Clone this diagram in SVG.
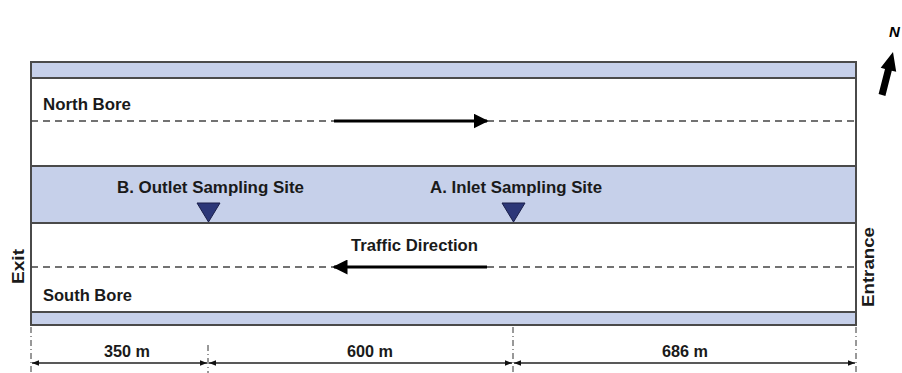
<svg xmlns="http://www.w3.org/2000/svg" width="902" height="373" viewBox="0 0 902 373">
<defs>
<style>
.band{fill:#c6d0ea;stroke:#4a4a4a;stroke-width:2}
.bore{fill:#ffffff;stroke:#4a4a4a;stroke-width:2}
.t{font-family:"Liberation Sans",Arial,sans-serif;font-weight:bold;font-size:17px;fill:#1a1a1a}
.dash{stroke:#444;stroke-width:1.5;stroke-dasharray:7,5;fill:none}
.dd{stroke:#333;stroke-width:1;stroke-dasharray:6,3,1,3;fill:none}
.dim{stroke:#222;stroke-width:1.4;fill:none}
.tri{fill:#2c3778;stroke:#1a1f4a;stroke-width:1}
</style>
<marker id="ah" viewBox="0 0 10 10" refX="9" refY="5" markerWidth="5" markerHeight="5" orient="auto-start-reverse" markerUnits="strokeWidth">
<path d="M0,0 L10,5 L0,10 z" fill="#000"/>
</marker>
<marker id="dh" viewBox="0 0 10 10" refX="10" refY="5" markerWidth="9" markerHeight="7" orient="auto-start-reverse" markerUnits="userSpaceOnUse">
<path d="M0,1 L10,5 L0,9 z" fill="#111"/>
</marker>
</defs>

<g id="tunnel">
<rect class="band" x="31" y="62" width="825" height="16"/>
<rect class="bore" x="31" y="78" width="825" height="88"/>
<rect class="band" x="31" y="166" width="825" height="57"/>
<rect class="bore" x="31" y="223" width="825" height="89"/>
<rect class="band" x="31" y="312" width="825" height="13"/>
</g>

<g id="north-bore">
<text class="t" x="43" y="110" textLength="88" lengthAdjust="spacingAndGlyphs">North Bore</text>
<line class="dash" x1="31" y1="121" x2="856" y2="121"/>
</g>

<g id="south-bore">
<text class="t" x="43" y="301" textLength="89" lengthAdjust="spacingAndGlyphs">South Bore</text>
<line class="dash" x1="31" y1="267" x2="856" y2="267"/>
<text class="t" x="351" y="251" textLength="127" lengthAdjust="spacingAndGlyphs">Traffic Direction</text>
</g>

<g id="site-b">
<text class="t" x="117" y="193" textLength="187" lengthAdjust="spacingAndGlyphs">B. Outlet Sampling Site</text>
<polygon class="tri" points="197,203 220,203 208.5,222"/>
</g>

<g id="site-a">
<text class="t" x="430" y="193" textLength="172" lengthAdjust="spacingAndGlyphs">A. Inlet Sampling Site</text>
<polygon class="tri" points="502,203 525,203 513.5,222"/>
</g>

<g id="exit">
<text class="t" transform="translate(24,284) rotate(-90)" textLength="35" lengthAdjust="spacingAndGlyphs">Exit</text>
</g>
<g id="entrance">
<text class="t" transform="translate(874,307) rotate(-90)" textLength="80" lengthAdjust="spacingAndGlyphs">Entrance</text>
</g>

<g id="north-symbol">
<polygon points="878.6,94.1 885.4,95.9 891.8,70.7 896.2,71.8 893,52 880.7,67.8 885,68.9" fill="#000"/>
<text x="889" y="37" font-family="Liberation Sans,Arial,sans-serif" font-weight="bold" font-style="italic" font-size="15" fill="#000">N</text>
</g>

<g id="connectors">
<line x1="334" y1="121" x2="487" y2="121" stroke="#000" stroke-width="3" marker-end="url(#ah)"/>
<line x1="487" y1="267" x2="334" y2="267" stroke="#000" stroke-width="3" marker-end="url(#ah)"/>
<line class="dd" x1="31" y1="327" x2="31" y2="373"/>
<line class="dd" x1="208" y1="345" x2="208" y2="373"/>
<line class="dd" x1="513" y1="327" x2="513" y2="373"/>
<line class="dd" x1="856" y1="327" x2="856" y2="373"/>
<line class="dim" x1="32" y1="363" x2="207" y2="363" marker-start="url(#dh)" marker-end="url(#dh)"/>
<line class="dim" x1="209" y1="363" x2="512" y2="363" marker-start="url(#dh)" marker-end="url(#dh)"/>
<line class="dim" x1="514" y1="363" x2="855" y2="363" marker-start="url(#dh)" marker-end="url(#dh)"/>
</g>

<g id="dimensions">
<text class="t" x="104" y="357" textLength="46" lengthAdjust="spacingAndGlyphs">350 m</text>
<text class="t" x="347" y="357" textLength="46" lengthAdjust="spacingAndGlyphs">600 m</text>
<text class="t" x="662" y="357" textLength="46" lengthAdjust="spacingAndGlyphs">686 m</text>
</g>
</svg>
